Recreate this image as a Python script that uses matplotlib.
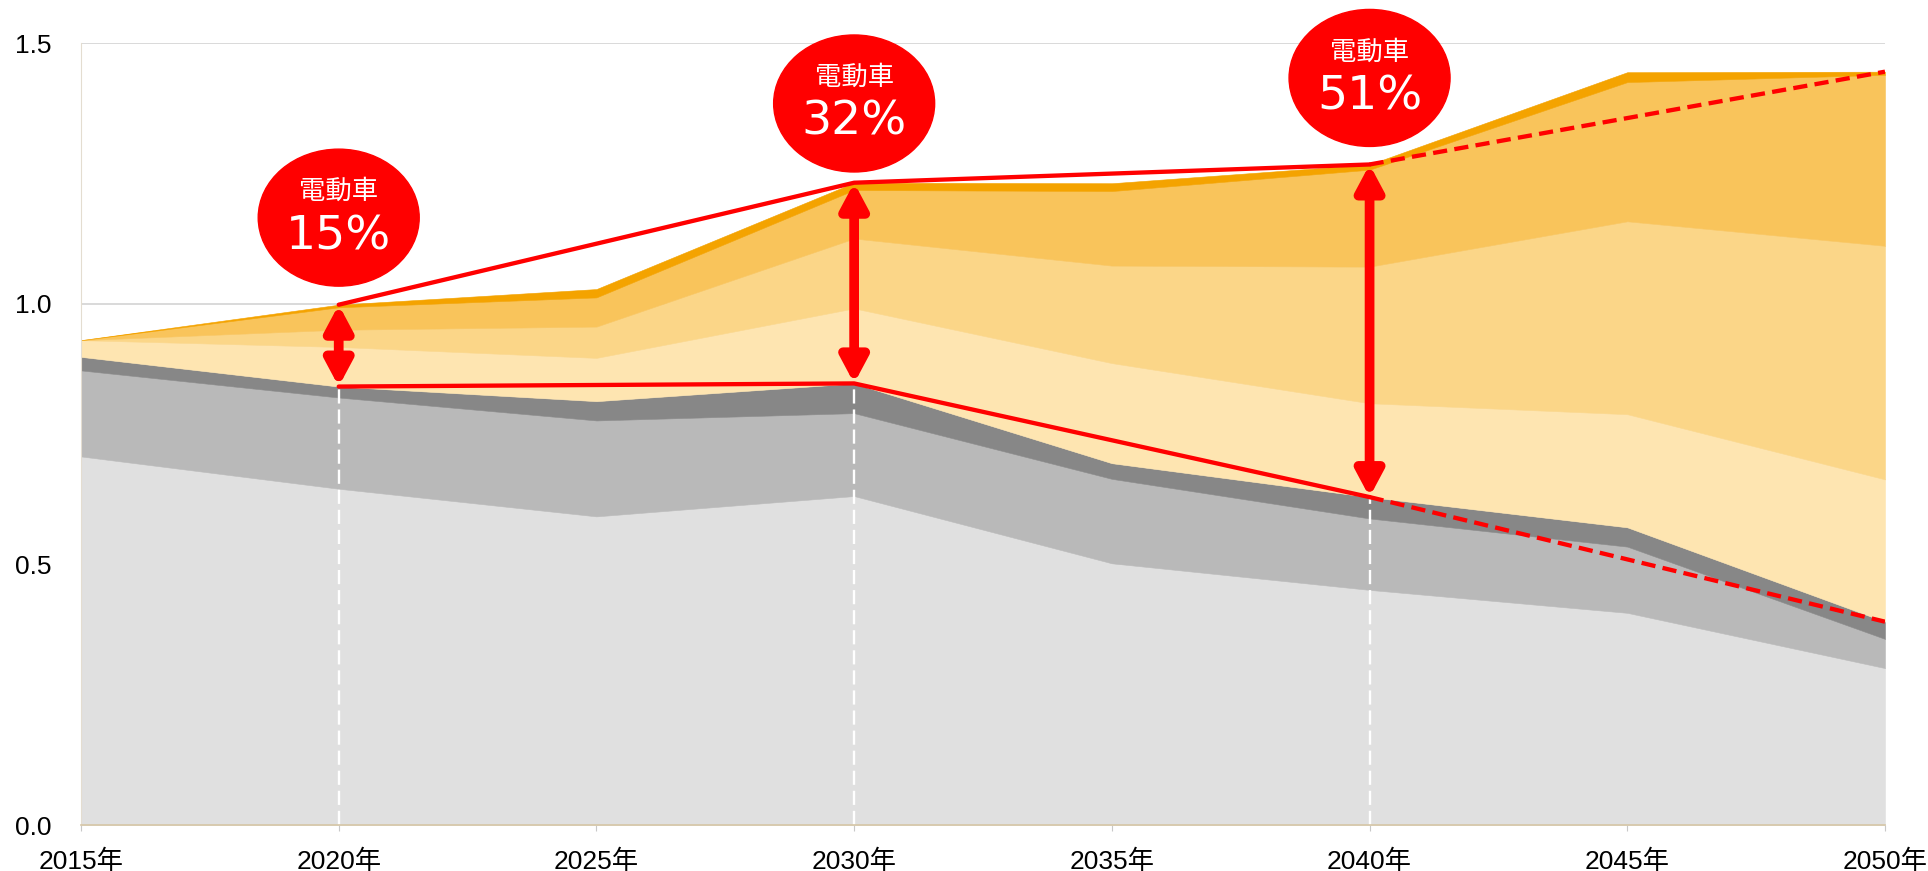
import matplotlib
matplotlib.use("Agg")
import matplotlib.pyplot as plt
import numpy as np
from matplotlib.patches import Ellipse

plt.rcParams['font.family'] = ['Liberation Sans', 'Noto Sans CJK JP']

# data
years = [2015, 2020, 2025, 2030, 2035, 2040, 2045, 2050]
light_gray = [0.707, 0.645, 0.592, 0.631, 0.502, 0.451, 0.407, 0.301]
mid_gray = [0.165, 0.175, 0.184, 0.159, 0.162, 0.137, 0.127, 0.056]
dark_gray = [0.026, 0.021, 0.037, 0.057, 0.030, 0.041, 0.037, 0.033]
cream = [0.032, 0.076, 0.083, 0.144, 0.192, 0.180, 0.217, 0.273]
light_orange = [0.000, 0.033, 0.060, 0.134, 0.187, 0.262, 0.370, 0.448]
orange = [0.000, 0.043, 0.056, 0.093, 0.143, 0.186, 0.267, 0.328]
dark_orange = [0.000, 0.005, 0.016, 0.014, 0.015, 0.010, 0.019, 0.006]

callout_years = [2020, 2030, 2040]
callout_labels = ["15%", "32%", "51%"]
callout_y = [1.165, 1.384, 1.433]

colors = ["#e0e0e0", "#b9b9b9", "#878787", "#fee5b1", "#fbd688", "#f9c45b", "#f4a300"]
RED = "#ff0000"

fig = plt.figure(figsize=(19.28, 8.71), dpi=100)
ax = fig.add_axes([81/1928, 46/871, 1804/1928, 782/871])

layers = [light_gray, mid_gray, dark_gray, cream, light_orange, orange, dark_orange]
ax.stackplot(years, *layers, colors=colors, linewidth=0.4, edgecolor="face", zorder=2)

yrs = np.array(years)
gray_top = np.sum(layers[:3], axis=0)
total = np.sum(layers, axis=0)

# white dashed guides
for cy in callout_years:
    i = years.index(cy)
    ax.plot([cy, cy], [0, gray_top[i]], color="white", lw=1.7, dashes=(6, 2.5), zorder=3)

# red outline lines
sel = [years.index(y) for y in callout_years]
ax.plot(yrs[sel], total[sel], color=RED, lw=3.1, zorder=4, solid_capstyle="round")
ax.plot(yrs[sel], gray_top[sel], color=RED, lw=3.1, zorder=4, solid_capstyle="round")
i40, i50 = years.index(2040), years.index(2050)
ax.plot([2040, 2050], [total[i40], total[i50]], color=RED, lw=3.1, dashes=(3.3, 1.7), zorder=4)
ax.plot([2040, 2050], [gray_top[i40], gray_top[i50]], color=RED, lw=3.1, dashes=(3.3, 1.7), zorder=4)

# double arrows
for cy in callout_years:
    i = years.index(cy)
    ax.annotate("", xy=(cy, total[i]), xytext=(cy, gray_top[i]),
                arrowprops=dict(arrowstyle="<|-|>,head_length=15,head_width=8",
                                mutation_scale=1, lw=7, color=RED,
                                shrinkA=0, shrinkB=0), zorder=5)

# callout bubbles
px_per_year = 1804 / 35
px_per_unit = 782 / 1.5
for cy, lab, yy in zip(callout_years, callout_labels, callout_y):
    ax.add_patch(Ellipse((cy, yy), 161 / px_per_year, 137 / px_per_unit,
                         color=RED, clip_on=False, zorder=6))
    ax.text(cy, yy + 26 / px_per_unit, "電動車", color="white", fontsize=19,
            family=["Noto Sans CJK JP"], ha="center", va="center", zorder=7)
    ax.text(cy, yy - 19 / px_per_unit, lab, color="white", fontsize=34,
            family=["DejaVu Sans"], ha="center", va="center", zorder=7)

ax.set_xlim(2015, 2050)
ax.set_ylim(0, 1.5)
ax.set_xticks(years)
ax.set_xticklabels([f"{y}年" for y in years])
ax.set_yticks([0, 0.5, 1.0, 1.5])
ax.set_yticklabels(["0.0", "0.5", "1.0", "1.5"])
ax.tick_params(axis="x", length=4.5, width=0.8, color="#c8c8c8", pad=13, labelsize=19)
ax.tick_params(axis="y", length=0, pad=21, labelsize=19)
ax.grid(axis="y", color="#d0d0d0", lw=1.1, zorder=0)
ax.set_axisbelow(True)
for s in ["top", "right"]:
    ax.spines[s].set_visible(False)
ax.spines["left"].set_color("#e4ddd0")
ax.spines["left"].set_linewidth(0.8)
ax.spines["bottom"].set_color("#d6c6a6")
ax.spines["bottom"].set_linewidth(1.2)
ax.spines["bottom"].set_zorder(3)

fig.savefig("out.png", dpi=100)
plt.close(fig)
